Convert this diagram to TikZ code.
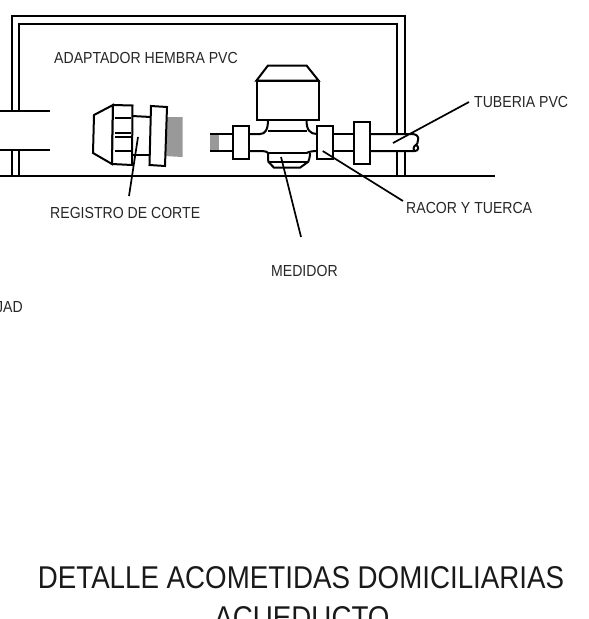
\documentclass[tikz,border=0pt]{standalone}
\usepackage{fontspec}
\usepackage{tikz}
\setmainfont{Liberation Sans}
\newfontfamily\narrowlabel[FakeStretch=0.88]{Liberation Sans}

\begin{document}
\begin{tikzpicture}[x=1pt,y=-1pt,line join=miter]
\useasboundingbox (0,0) rectangle (589,619);
\clip (0,0) rectangle (589,619);

\tikzstyle{wall}=[draw=black,line width=2pt]
\tikzstyle{part}=[draw=black,line width=2pt,fill=white]
\tikzstyle{leader}=[draw=black,line width=1.7pt]
\tikzstyle{label}=[font=\narrowlabel\fontsize{16}{16}\selectfont,inner sep=0pt,text=black!85]
\tikzstyle{bigtitle}=[font=\narrowlabel\fontsize{31.5}{31.5}\selectfont,inner sep=0pt,text=black!90]
\definecolor{sleeve}{RGB}{153,153,153}

%%BOX
\draw[wall] (12,111) -- (12,16) -- (404.5,16) -- (404.5,134);
\draw[wall] (19,111) -- (19,24) -- (396.5,24) -- (396.5,134);
\draw[wall] (12,149.5) -- (12,175.5);
\draw[wall] (19,149.5) -- (19,175.5);
\draw[wall] (396.5,151) -- (396.5,175.5);
\draw[wall] (404.5,151) -- (404.5,175.5);
\draw[wall] (0,175.5) -- (495,175.5);
\draw[wall] (0,111) -- (50,111);
\draw[wall] (0,149.5) -- (50,149.5);

%%VALVE
\fill[sleeve] (165,117) -- (182.5,117) -- (182.5,157) -- (164,156) -- cycle;
\draw[wall] (132,116) -- (151,117);
\draw[wall] (132,155) -- (150,155);
\draw[part] (113,105) -- (94,115) -- (93,153) -- (112,164) -- cycle;
\draw[part] (113,105) -- (132.5,105.5) -- (132,165) -- (112,164) -- cycle;
\draw[part] (151,106) -- (167,107) -- (165,166) -- (149.5,165) -- cycle;
\foreach \y in {118,133,137,151}
	\draw[line width=2pt] (114.5,\y) -- (131,\y);

%%PIPE
\fill[sleeve] (210,134) rectangle (219,151);
\draw[wall] (210,134) -- (233,134);
\draw[wall] (210,151) -- (233,151);
\draw[wall] (249,134) -- (260,134) .. controls (265,134) and (268,130) .. (268,120);
\draw[wall] (249,151) -- (262,151) .. controls (265,151) and (268,152) .. (268,153);
\draw[wall] (268,131) -- (306.5,131);
\draw[wall] (268,152.5) -- (306.5,152.5);
\draw[wall] (306.5,120) .. controls (306.5,130) and (310,134) .. (317,134);
\draw[wall] (306.5,153) .. controls (308,152) and (312,151) .. (317,151);
\draw[wall] (268,153) .. controls (268,157) and (268.3,160) .. (268.3,161.7) -- (274,167.7) -- (300,167.7) -- (308.3,161.7) .. controls (309,160) and (310,157) .. (310,153);
\draw[wall] (268.3,161.7) -- (308.3,161.7);
\draw[wall] (333,134) -- (354,134);
\draw[wall] (333,151) -- (354,151);
\draw[wall] (370,134) -- (412,134) .. controls (416,134) and (419,136) .. (418,140) .. controls (418,143) and (417,144) .. (416,145) .. controls (419,146) and (419,151) .. (415,151) -- (370,151);
\draw[wall] (416,145) .. controls (413,146) and (413,151) .. (415,151);

%%METER
\draw[part] (256.5,80.5) -- (268,65.5) -- (306.5,65.5) -- (318.5,80.5) -- cycle;
\draw[part] (256.5,80.5) rectangle (318.5,120);
\draw[part] (232.7,126) rectangle (249,159);
\draw[part] (317.3,126) rectangle (333,158.5);
\draw[part] (354,121.7) rectangle (370,164);

%%LABELS
\node (adaptador) [label,anchor=west] at (54,58) {ADAPTADOR HEMBRA PVC};
\node (tuberia) [label,anchor=west] at (474,102) {TUBERIA PVC};
\node (racor) [label,anchor=west] at (406,208) {RACOR Y TUERCA};
\node (registro) [label,anchor=west] at (50,213) {REGISTRO DE CORTE};
\node (medidor) [label,anchor=west] at (271,271) {MEDIDOR};
\node (unidad) [label,anchor=east] at (23,307) {JAD};
\node (titleA) [bigtitle,anchor=center] at (301,578) {DETALLE ACOMETIDAS DOMICILIARIAS};
\node (titleB) [bigtitle,anchor=center] at (302,618) {ACUEDUCTO};

\coordinate (tuberiaEnd) at (393,143);
\coordinate (racorEnd) at (322.7,151);
\coordinate (registroEnd) at (138,137);
\coordinate (medidorEnd) at (281,157);
\coordinate (tuberiaTip) at (469,102);
\coordinate (racorTip) at (403,201);
\coordinate (registroTip) at (129,196);
\coordinate (medidorTip) at (301,237);
\draw[leader] (tuberiaTip) -- (tuberiaEnd);
\draw[leader] (racorTip) -- (racorEnd);
\draw[leader] (registroTip) -- (registroEnd);
\draw[leader] (medidorTip) -- (medidorEnd);
\end{tikzpicture}
\end{document}
